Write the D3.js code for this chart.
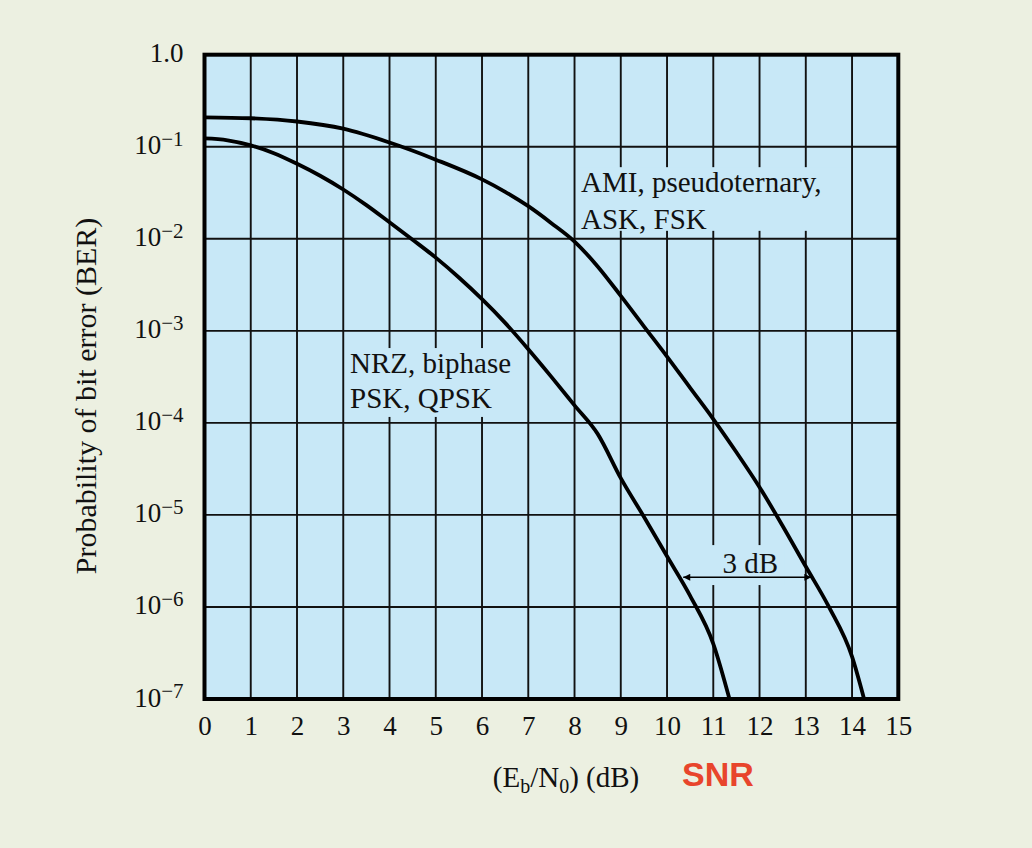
<!DOCTYPE html>
<html>
<head>
<meta charset="utf-8">
<script src="https://cdn.jsdelivr.net/npm/d3@7"></script>
<style>
  html, body { margin: 0; padding: 0; background: #ECF0E1; }
  svg { display: block; }
  text { font-family: "Liberation Serif", "Times New Roman", serif; fill: #111; }
</style>
</head>
<body>
<div id="main"></div>
<script>
// Eb/N0 (dB) and bit error rate
const ebn0Nrz = [0, 0.5, 1, 1.5, 2, 2.5, 3, 3.5, 4, 4.5, 5, 5.5, 6, 6.5, 7, 7.5, 8, 8.5, 9, 9.5, 10, 10.5, 11, 11.35];
const berNrz = [0.123, 0.1175, 0.1035, 0.0851, 0.0653, 0.0484, 0.0343, 0.0232, 0.0151, 9.77e-3, 6.24e-3, 3.80e-3, 2.21e-3, 1.22e-3, 6.31e-4, 3.16e-4, 1.55e-4, 7.59e-5, 2.51e-5, 9.55e-6, 3.55e-6, 1.32e-6, 3.98e-7, 1.0e-7];

const ebn0Ami = [0, 1, 2, 3, 4, 5, 6, 6.5, 7, 7.5, 8, 8.5, 9, 9.5, 10, 10.5, 11, 11.5, 12, 12.5, 13, 13.5, 14, 14.26];
const berAmi = [0.209, 0.204, 0.188, 0.157, 0.111, 0.0724, 0.0442, 0.0324, 0.0226, 0.01479, 9.33e-3, 5.01e-3, 2.40e-3, 1.12e-3, 5.25e-4, 2.40e-4, 1.10e-4, 4.79e-5, 2.0e-5, 7.59e-6, 2.75e-6, 1.0e-6, 2.88e-7, 1.0e-7];

const xTicks = d3.range(0, 16);
const yTickExp = [0, -1, -2, -3, -4, -5, -6, -7];

// "3 dB" gap between the curves at BER ~ 2e-6
const gapFrom = 10.35, gapTo = 13.12, gapBer = 2.1e-6;

class BerChart {
    constructor({ width = 1032, height = 848 } = {}) {
        this.w = width;
        this.h = height;
        this.x = d3.scaleLinear().domain([0, 15]).range([204.5, 898.3]);
        this.y = d3.scaleLog().domain([1e-7, 1]).range([699, 54.7]);
    }

    createSvg(selector) {
        this.svg = d3.select(selector).append("svg")
            .attr("width", this.w)
            .attr("height", this.h);
        this.svg.append("rect")
            .attr("width", this.w).attr("height", this.h)
            .attr("fill", "#ECF0E1");
    }

    drawChart() {
        const x = this.x, y = this.y, svg = this.svg;
        const [x0, x1] = x.range();
        const [y0, y1] = y.range();

        svg.append("rect")
            .attr("x", x0).attr("y", y1)
            .attr("width", x1 - x0).attr("height", y0 - y1)
            .attr("fill", "#C8E8F7");

        // grid
        const grid = svg.append("g").attr("stroke", "#111").attr("stroke-width", 1.9);
        grid.selectAll("line.v")
            .data(xTicks.slice(1, -1))
            .join("line")
            .attr("x1", d => x(d)).attr("x2", d => x(d))
            .attr("y1", y1).attr("y2", y0);
        grid.selectAll("line.h")
            .data(yTickExp.slice(1, -1))
            .join("line")
            .attr("x1", x0).attr("x2", x1)
            .attr("y1", d => y(Math.pow(10, d))).attr("y2", d => y(Math.pow(10, d)));

        // blank patches behind the labels (gridlines are cut there)
        const patches = [
            [8.08, 13.9, 0.060, 0.0122],
            [3.1, 6.89, 6.5e-4, 1.16e-4],
            [10.65, 12.55, 4.7e-6, 1.73e-6]
        ];
        svg.selectAll("rect.patch")
            .data(patches)
            .join("rect")
            .attr("x", d => x(d[0]))
            .attr("y", d => y(d[2]))
            .attr("width", d => x(d[1]) - x(d[0]))
            .attr("height", d => y(d[3]) - y(d[2]))
            .attr("fill", "#C8E8F7");

        // curves
        const line = d3.line()
            .x(d => x(d[0]))
            .y(d => y(d[1]))
            .curve(d3.curveMonotoneX);

        const series = [d3.zip(ebn0Nrz, berNrz), d3.zip(ebn0Ami, berAmi)];
        svg.selectAll("path.curve")
            .data(series)
            .join("path")
            .attr("d", line)
            .attr("fill", "none")
            .attr("stroke", "#000")
            .attr("stroke-width", 3.8)
            .attr("stroke-linejoin", "round");

        // frame
        svg.append("rect")
            .attr("x", x0).attr("y", y1)
            .attr("width", x1 - x0).attr("height", y0 - y1)
            .attr("fill", "none")
            .attr("stroke", "#000")
            .attr("stroke-width", 4);

        // labels
        const lab = svg.append("g").style("font-size", "29px");
        lab.append("text").attr("x", 581).attr("y", 192).text("AMI, pseudoternary,");
        lab.append("text").attr("x", 581).attr("y", 229).text("ASK, FSK");
        lab.append("text").attr("x", 350).attr("y", 373).text("NRZ, biphase");
        lab.append("text").attr("x", 350).attr("y", 408).text("PSK, QPSK");

        // 3 dB arrow
        const ay = y(gapBer);
        const defs = svg.append("defs");
        defs.append("marker")
            .attr("id", "ah")
            .attr("viewBox", "0 0 10 10")
            .attr("refX", 10).attr("refY", 5)
            .attr("markerWidth", 9).attr("markerHeight", 7)
            .attr("markerUnits", "userSpaceOnUse")
            .attr("orient", "auto-start-reverse")
            .append("path").attr("d", "M0,0L10,5L0,10Z").attr("fill", "#000");
        svg.append("line")
            .attr("x1", x(gapFrom)).attr("x2", x(gapTo))
            .attr("y1", ay).attr("y2", ay)
            .attr("stroke", "#000").attr("stroke-width", 1.6)
            .attr("marker-start", "url(#ah)")
            .attr("marker-end", "url(#ah)");
        lab.append("text")
            .attr("x", (x(gapFrom) + x(gapTo)) / 2 + 3)
            .attr("y", ay - 4)
            .attr("text-anchor", "middle")
            .text("3 dB");

        // x axis
        const gx = svg.append("g")
            .attr("transform", `translate(0,${y0})`)
            .call(d3.axisBottom(x).tickValues(xTicks).tickSize(0).tickFormat(d3.format("d")));
        gx.select(".domain").remove();
        gx.selectAll("text")
            .attr("y", 36).attr("dy", 0)
            .style("font-family", "Liberation Serif")
            .style("font-size", "27px")
            .attr("fill", "#111");

        // y axis
        const gy = svg.append("g")
            .attr("transform", `translate(${x0},0)`)
            .call(d3.axisLeft(y).tickValues(yTickExp.map(e => Math.pow(10, e))).tickSize(0).tickPadding(21));
        gy.select(".domain").remove();
        gy.selectAll("text")
            .attr("dy", 7)
            .style("font-family", "Liberation Serif")
            .style("font-size", "27px")
            .attr("fill", "#111")
            .each(function (d, i) {
                const t = d3.select(this).text("");
                const e = yTickExp[i];
                if (e === 0) {
                    t.text("1.0");
                } else {
                    t.append("tspan").text("10");
                    t.append("tspan")
                        .attr("dy", -8.5)
                        .style("font-size", "21px")
                        .text("\u2212" + Math.abs(e));
                }
            });

        // axis titles
        const xt = svg.append("text")
            .attr("x", 566).attr("y", 787)
            .attr("text-anchor", "middle")
            .style("font-size", "29px");
        xt.append("tspan").text("(E");
        xt.append("tspan").attr("dy", 6).style("font-size", "20px").text("b");
        xt.append("tspan").attr("dy", -6).text("/N");
        xt.append("tspan").attr("dy", 6).style("font-size", "20px").text("0");
        xt.append("tspan").attr("dy", -6).text(") (dB)");

        svg.append("text")
            .attr("x", 682).attr("y", 786)
            .style("font-family", "Liberation Sans, Arial, sans-serif")
            .style("font-weight", "bold")
            .style("font-size", "34px")
            .style("fill", "#E8452C")
            .text("SNR");

        svg.append("text")
            .attr("transform", "translate(96,396) rotate(-90)")
            .attr("text-anchor", "middle")
            .style("font-size", "30px")
            .text("Probability of bit error (BER)");
    }

    run(selector) {
        this.createSvg(selector);
        this.drawChart();
    }
}

window.onload = () => {
    const chart = new BerChart({ width: 1032, height: 848 });
    chart.run("#main");
};
</script>
</body>
</html>
